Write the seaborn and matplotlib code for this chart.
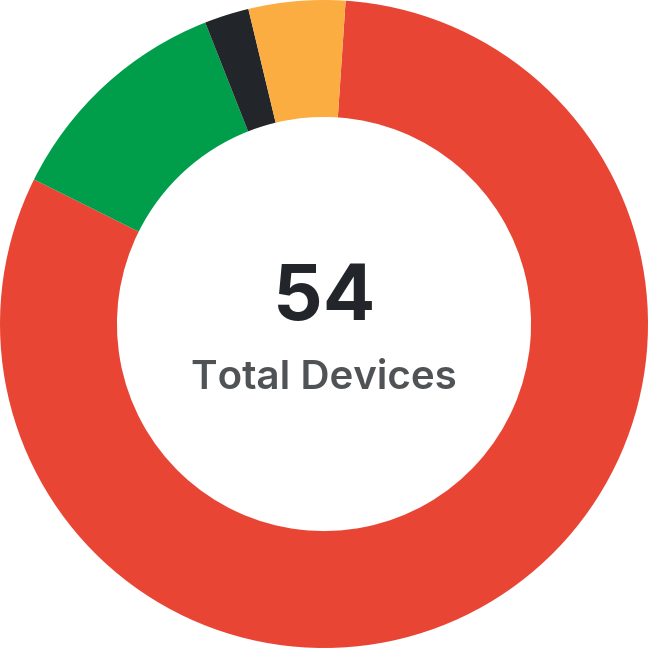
import matplotlib
matplotlib.use("Agg")
import matplotlib.pyplot as plt
import seaborn as sns

statuses = ["Critical", "Healthy", "Offline", "Warning"]
device_counts = [43.9, 6.3, 1.2, 2.6]
status_colors = ["#E94535", "#009E4A", "#22262B", "#FBAD41"]
total_devices = 54
center_label = "Total Devices"

sns.set_theme(style="white")
plt.rcParams["font.family"] = ["Inter", "DejaVu Sans"]

fig = plt.figure(figsize=(6.48, 6.48), dpi=100)
ax = fig.add_axes([0, 0, 1, 1])

palette = sns.color_palette(status_colors)
ax.pie(
    device_counts,
    colors=palette,
    startangle=86.17,
    counterclock=False,
    radius=1.0,
    wedgeprops=dict(width=0.361, edgecolor="none", antialiased=True),
)

# Centre text
ax.text(0, 0.077, str(total_devices), ha="center", va="center",
        fontsize=56, fontweight="bold", color="#22262B")
ax.text(0, -0.167, center_label, ha="center", va="center",
        fontsize=29, fontweight="semibold", color="#505355")

ax.set_xlim(-1, 1)
ax.set_ylim(-1, 1)
ax.set_aspect("equal")
ax.axis("off")

# white hole behind text
hole = plt.Circle((0, 0), 0.639, color="white", zorder=0)
ax.add_patch(hole)

fig.savefig("out.png", dpi=100, transparent=True)
